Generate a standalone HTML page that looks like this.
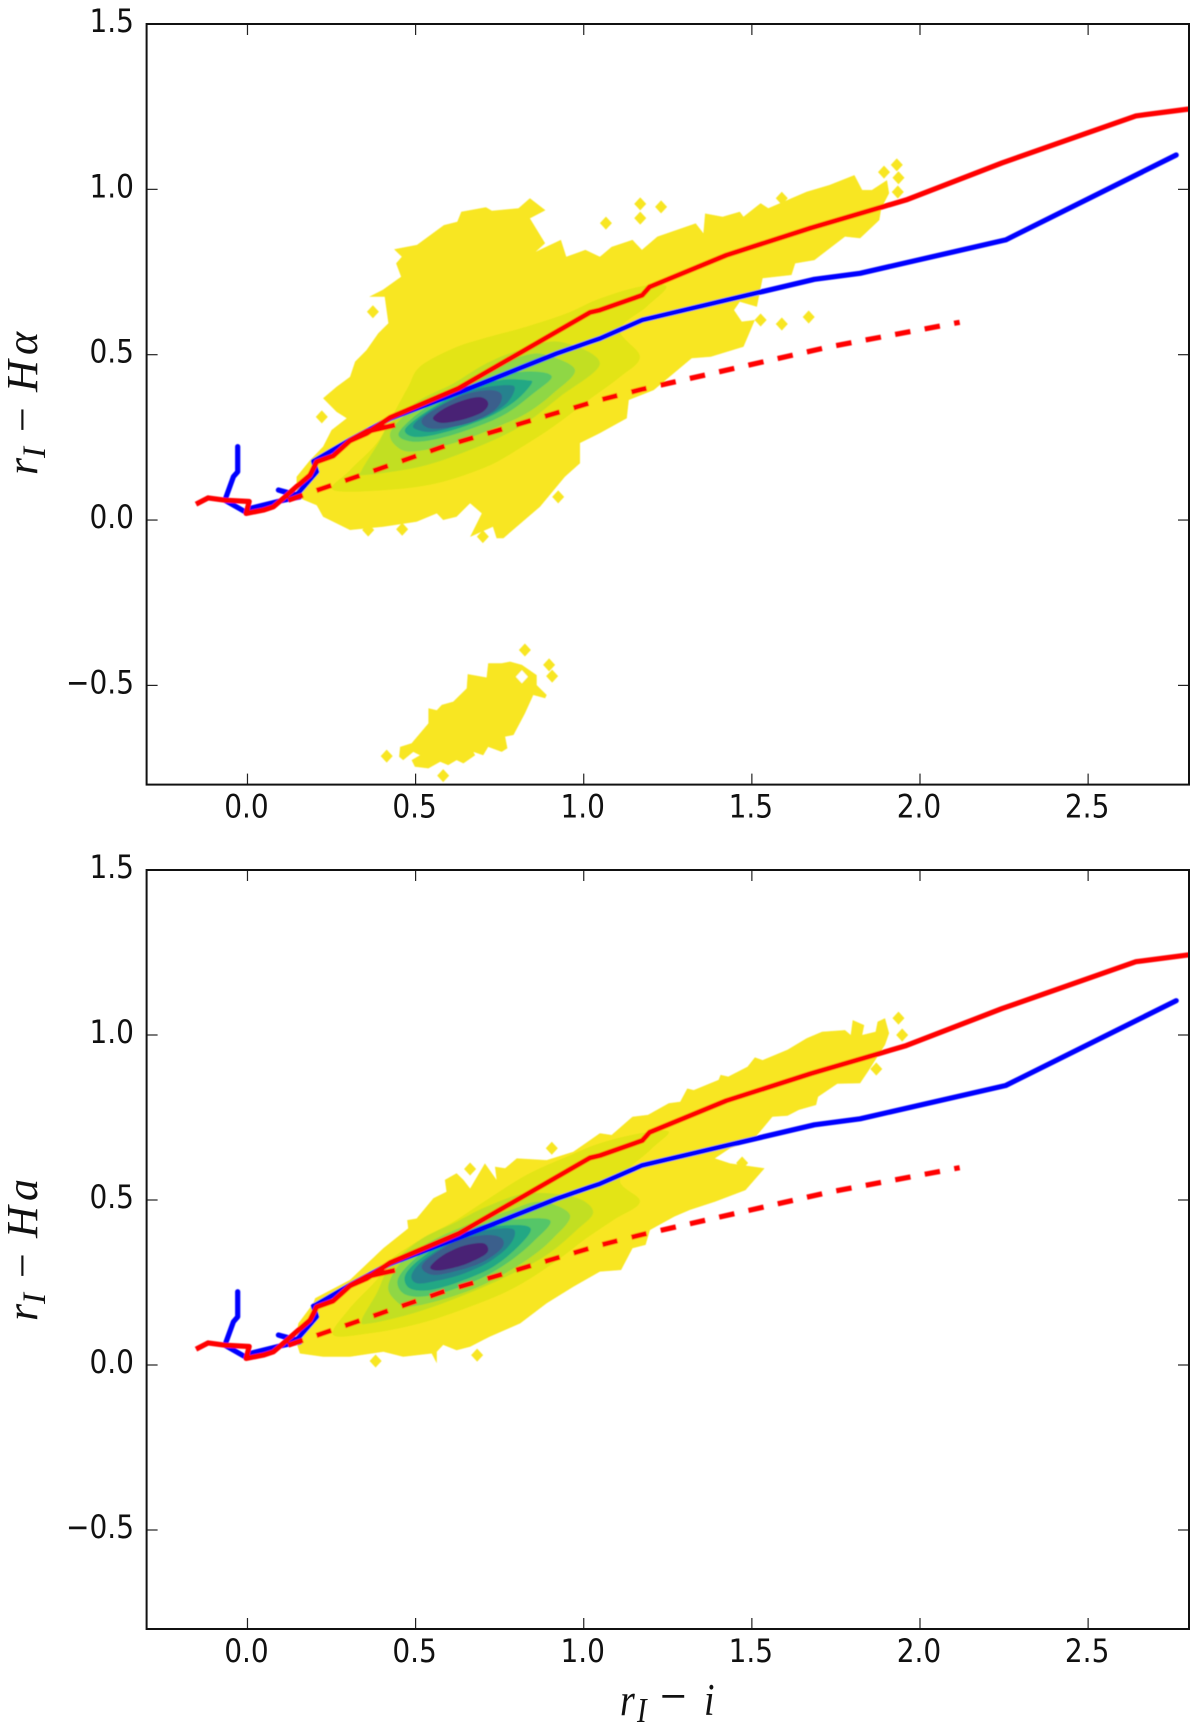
<!DOCTYPE html>
<html lang="en">
<head>
<meta charset="utf-8">
<title>Colour-colour density plots</title>
<style>
html,body{margin:0;padding:0;background:#fff;width:1200px;height:1731px;overflow:hidden}
svg{display:block}
.tick-label{font-family:"DejaVu Sans","Liberation Sans",sans-serif;font-size:28px;fill:#111}
.axis-title{font-family:"Liberation Serif",serif;font-style:italic;fill:#111}
.axis-title .upright{font-style:normal}
</style>
</head>
<body>
<svg id="chart" xmlns="http://www.w3.org/2000/svg" width="1200" height="1731" viewBox="0 0 1200 1731">
  <defs><filter id="soft" x="-2%" y="-2%" width="104%" height="104%"><feGaussianBlur stdDeviation="0.5"/></filter></defs>
  <rect x="0" y="0" width="1200" height="1731" fill="#fff"/>
  <g id="panel-top"></g>
  <g id="panel-bottom"></g>
  <text class="axis-title" font-size="44" transform="translate(37,475) rotate(-90)"><tspan x="0">r</tspan><tspan x="17" y="8" font-size="33">I</tspan><tspan class="upright" x="43" y="0">−</tspan><tspan x="83" y="0">H</tspan><tspan x="120">α</tspan></text>
  <text class="axis-title" font-size="44" transform="translate(37,1321) rotate(-90)"><tspan x="0">r</tspan><tspan x="17" y="8" font-size="33">I</tspan><tspan class="upright" x="43" y="0">−</tspan><tspan x="83" y="0">H</tspan><tspan x="120">a</tspan></text>
  <text class="axis-title" font-size="38" transform="translate(620,1715) scale(1,1.2)"><tspan x="0">r</tspan><tspan x="17" y="6" font-size="29">I</tspan><tspan class="upright" x="40" y="0" font-size="47">−</tspan><tspan x="84" y="0">i</tspan></text>
</svg>
<script>
// ---- axis data ----
const xTicks = [0, 0.5, 1, 1.5, 2, 2.5];
const xTickLabels = ["0.0", "0.5", "1.0", "1.5", "2.0", "2.5"];
const yTicks = [-0.5, 0, 0.5, 1, 1.5];
const yTickLabels = ["−0.5", "0.0", "0.5", "1.0", "1.5"];
const xRange = [-0.3, 2.8];
const yRange = [-0.8, 1.5];

// ---- model tracks (shared by both panels) ----
const redTrack = [[-0.153,0.048],[-0.117,0.067],[-0.067,0.060],[0.005,0.056],[-0.004,0.020],[0.047,0.030],[0.077,0.040],[0.107,0.066],[0.146,0.101],[0.186,0.136],[0.206,0.176],[0.255,0.194],[0.280,0.217],[0.305,0.240],[0.355,0.262],[0.424,0.310],[0.627,0.398],[1.019,0.628],[1.048,0.635],[1.174,0.680],[1.196,0.705],[1.424,0.801],[1.675,0.883],[1.959,0.968],[2.244,1.080],[2.642,1.222],[2.800,1.243]];
const redBranch = [[0.305,0.240],[0.355,0.268],[0.439,0.287]];
const blueTrack = [[-0.029,0.222],[-0.029,0.146],[-0.042,0.131],[-0.067,0.060],[-0.007,0.025],[0.007,0.035],[0.107,0.060],[0.156,0.070],[0.092,0.091],[0.146,0.076],[0.206,0.146],[0.196,0.178],[0.305,0.242],[0.424,0.307],[0.647,0.393],[0.920,0.504],[1.019,0.539],[1.048,0.549],[1.174,0.605],[1.686,0.728],[1.822,0.746],[2.255,0.847],[2.762,1.104]];
const redDashed = [[0.121,0.060],[0.330,0.133],[0.582,0.222],[1.048,0.363],[1.172,0.395],[1.731,0.524],[2.118,0.598]];

// ---- density contour levels, outermost to innermost colour ----
const levelColors = ["#f8e621","#e3e418","#c2df23","#8fd744","#55c667","#22a884","#26828e","#3a5f8c","#482475"];

// ---- top panel contours ----
const topOuter = [[0.146,0.131],[0.186,0.181],[0.225,0.222],[0.250,0.272],[0.295,0.308],[0.265,0.327],[0.225,0.368],[0.265,0.403],[0.305,0.433],[0.320,0.479],[0.354,0.514],[0.389,0.565],[0.419,0.595],[0.408,0.675],[0.362,0.675],[0.402,0.696],[0.457,0.736],[0.442,0.776],[0.459,0.796],[0.436,0.819],[0.504,0.832],[0.584,0.892],[0.624,0.902],[0.636,0.932],[0.709,0.946],[0.727,0.935],[0.806,0.943],[0.840,0.973],[0.886,0.937],[0.840,0.912],[0.885,0.837],[0.857,0.811],[0.932,0.847],[0.948,0.796],[1.005,0.817],[1.048,0.796],[1.083,0.826],[1.145,0.847],[1.173,0.817],[1.219,0.857],[1.333,0.897],[1.356,0.867],[1.361,0.927],[1.413,0.917],[1.464,0.932],[1.475,0.917],[1.526,0.958],[1.549,0.943],[1.663,0.993],[1.731,1.013],[1.805,1.043],[1.828,0.998],[1.857,0.998],[1.902,1.028],[1.908,0.988],[1.885,0.943],[1.879,0.907],[1.822,0.852],[1.777,0.857],[1.686,0.786],[1.629,0.776],[1.618,0.741],[1.532,0.731],[1.515,0.645],[1.464,0.660],[1.447,0.635],[1.470,0.600],[1.509,0.605],[1.475,0.524],[1.378,0.494],[1.321,0.489],[1.208,0.393],[1.134,0.363],[1.128,0.308],[1.048,0.263],[0.989,0.233],[0.989,0.172],[0.944,0.131],[0.870,0.040],[0.761,-0.055],[0.741,-0.055],[0.730,-0.020],[0.662,-0.051],[0.697,0.020],[0.662,0.051],[0.622,0.010],[0.582,0.000],[0.563,0.020],[0.503,-0.005],[0.404,-0.020],[0.305,-0.030],[0.225,0.010],[0.206,0.045],[0.146,0.070]];
const topLowerBlob = [[0.454,-0.686],[0.488,-0.675],[0.538,-0.615],[0.538,-0.569],[0.563,-0.575],[0.578,-0.559],[0.612,-0.549],[0.652,-0.509],[0.655,-0.466],[0.711,-0.476],[0.716,-0.433],[0.756,-0.433],[0.781,-0.428],[0.816,-0.438],[0.860,-0.469],[0.860,-0.499],[0.890,-0.529],[0.885,-0.539],[0.850,-0.529],[0.825,-0.585],[0.791,-0.650],[0.766,-0.655],[0.773,-0.690],[0.756,-0.701],[0.716,-0.686],[0.701,-0.711],[0.672,-0.701],[0.677,-0.711],[0.642,-0.736],[0.622,-0.726],[0.597,-0.741],[0.573,-0.731],[0.538,-0.751],[0.498,-0.746],[0.488,-0.726],[0.513,-0.711],[0.493,-0.701],[0.463,-0.726],[0.451,-0.716]];
const topSpots = [[0.373,0.630],[1.168,0.913],[1.230,0.947],[1.066,0.898],[1.168,0.956],[1.931,1.074],[1.893,1.052],[1.936,1.035],[1.934,0.992],[1.589,0.973],[1.526,0.605],[1.589,0.593],[1.669,0.614],[0.924,0.070],[0.359,-0.030],[0.460,-0.028],[0.700,-0.050],[0.221,0.312],[0.414,-0.714],[0.582,-0.773],[0.825,-0.393],[0.897,-0.438],[0.906,-0.472]];
const topHoles = [[0.816,-0.474],[1.019,0.212]];
const topL2 = [[0.255,0.091],[0.305,0.151],[0.384,0.232],[0.429,0.312],[0.478,0.403],[0.513,0.464],[0.612,0.519],[0.701,0.549],[0.830,0.585],[0.949,0.625],[1.048,0.670],[1.167,0.706],[1.246,0.706],[1.187,0.645],[1.108,0.575],[1.167,0.494],[1.108,0.433],[1.008,0.358],[0.909,0.282],[0.810,0.217],[0.711,0.161],[0.563,0.111],[0.414,0.091]];
const topL3 = [[0.340,0.151],[0.389,0.232],[0.424,0.292],[0.513,0.363],[0.612,0.413],[0.711,0.474],[0.810,0.514],[0.929,0.539],[1.048,0.474],[0.929,0.373],[0.810,0.282],[0.662,0.212],[0.513,0.161],[0.345,0.136]];
const topL4 = [[0.424,0.262],[0.463,0.312],[0.533,0.363],[0.632,0.408],[0.731,0.464],[0.830,0.499],[0.889,0.499],[0.974,0.454],[0.909,0.383],[0.830,0.323],[0.731,0.277],[0.612,0.232],[0.493,0.207],[0.444,0.222]];
const topL5 = [[0.449,0.257],[0.483,0.302],[0.553,0.353],[0.652,0.403],[0.751,0.438],[0.850,0.449],[0.905,0.433],[0.850,0.383],[0.771,0.323],[0.681,0.282],[0.572,0.247],[0.493,0.237]];
const topL6 = [[0.468,0.272],[0.503,0.307],[0.572,0.353],[0.652,0.393],[0.751,0.423],[0.830,0.423],[0.845,0.413],[0.800,0.363],[0.731,0.318],[0.642,0.282],[0.553,0.257],[0.493,0.252]];
const topL7 = [[0.493,0.287],[0.533,0.323],[0.612,0.368],[0.691,0.398],[0.771,0.408],[0.795,0.398],[0.771,0.353],[0.711,0.313],[0.632,0.287],[0.553,0.267],[0.508,0.272]];
const topL8 = [[0.518,0.302],[0.563,0.338],[0.642,0.378],[0.721,0.393],[0.756,0.378],[0.741,0.338],[0.682,0.302],[0.612,0.282],[0.543,0.277]];
const topL9 = [[0.553,0.312],[0.592,0.341],[0.652,0.365],[0.696,0.371],[0.716,0.353],[0.701,0.328],[0.652,0.307],[0.592,0.294],[0.563,0.297]];

// ---- bottom panel contours ----
const bottomOuter = [[0.146,0.086],[0.151,0.126],[0.196,0.187],[0.201,0.202],[0.305,0.258],[0.404,0.354],[0.478,0.414],[0.475,0.439],[0.503,0.444],[0.553,0.505],[0.592,0.525],[0.587,0.561],[0.622,0.581],[0.642,0.561],[0.662,0.535],[0.706,0.611],[0.741,0.561],[0.736,0.601],[0.766,0.596],[0.801,0.626],[0.890,0.621],[0.969,0.646],[1.048,0.702],[1.083,0.697],[1.145,0.752],[1.191,0.758],[1.253,0.793],[1.287,0.798],[1.308,0.838],[1.327,0.833],[1.401,0.864],[1.407,0.879],[1.430,0.874],[1.487,0.904],[1.509,0.932],[1.532,0.924],[1.606,0.955],[1.663,0.990],[1.709,1.010],[1.777,1.015],[1.794,1.000],[1.800,1.045],[1.834,1.030],[1.828,1.000],[1.868,1.010],[1.874,1.040],[1.896,1.051],[1.908,1.005],[1.896,0.970],[1.845,0.889],[1.822,0.854],[1.754,0.852],[1.697,0.813],[1.691,0.788],[1.640,0.773],[1.606,0.755],[1.561,0.752],[1.504,0.682],[1.435,0.657],[1.390,0.626],[1.435,0.611],[1.538,0.596],[1.481,0.530],[1.390,0.495],[1.316,0.470],[1.270,0.450],[1.197,0.409],[1.184,0.364],[1.145,0.354],[1.111,0.288],[1.048,0.283],[0.969,0.237],[0.890,0.187],[0.811,0.126],[0.721,0.086],[0.711,0.081],[0.662,0.055],[0.622,0.045],[0.582,0.061],[0.563,0.040],[0.563,0.005],[0.548,0.035],[0.463,0.025],[0.404,0.040],[0.305,0.025],[0.225,0.025],[0.156,0.035],[0.146,0.066]];
const bottomSpots = [[0.905,0.657],[0.662,0.594],[0.381,0.012],[0.683,0.030],[1.870,0.897],[1.936,1.051],[1.947,1.000],[1.471,0.612]];
const bottomL2 = [[0.255,0.091],[0.300,0.167],[0.384,0.258],[0.424,0.318],[0.513,0.379],[0.612,0.434],[0.711,0.500],[0.830,0.576],[0.949,0.631],[1.048,0.672],[1.167,0.702],[1.253,0.707],[1.197,0.651],[1.108,0.561],[1.167,0.495],[1.088,0.439],[1.008,0.384],[0.909,0.308],[0.790,0.232],[0.662,0.177],[0.513,0.126],[0.364,0.096]];
const bottomL3 = [[0.340,0.136],[0.384,0.217],[0.424,0.298],[0.513,0.379],[0.612,0.429],[0.711,0.480],[0.830,0.520],[0.969,0.510],[1.028,0.465],[0.979,0.409],[0.889,0.333],[0.770,0.268],[0.632,0.207],[0.493,0.157],[0.364,0.126]];
const bottomL4 = [[0.419,0.242],[0.463,0.318],[0.553,0.379],[0.652,0.424],[0.771,0.465],[0.870,0.495],[0.959,0.455],[0.909,0.384],[0.830,0.318],[0.711,0.248],[0.592,0.202],[0.483,0.177],[0.439,0.197]];
const bottomL5 = [[0.446,0.253],[0.483,0.308],[0.562,0.369],[0.662,0.414],[0.771,0.439],[0.899,0.439],[0.850,0.374],[0.771,0.308],[0.672,0.252],[0.553,0.212],[0.473,0.212]];
const bottomL6 = [[0.468,0.268],[0.503,0.313],[0.582,0.369],[0.672,0.409],[0.781,0.424],[0.842,0.414],[0.810,0.364],[0.731,0.298],[0.632,0.253],[0.543,0.227],[0.483,0.232]];
const bottomL7 = [[0.488,0.273],[0.523,0.318],[0.602,0.369],[0.691,0.404],[0.780,0.414],[0.795,0.394],[0.771,0.354],[0.711,0.308],[0.632,0.273],[0.553,0.253],[0.503,0.248]];
const bottomL8 = [[0.518,0.298],[0.558,0.338],[0.632,0.379],[0.711,0.394],[0.756,0.384],[0.756,0.354],[0.701,0.313],[0.632,0.288],[0.553,0.273]];
const bottomL9 = [[0.545,0.300],[0.582,0.333],[0.642,0.361],[0.701,0.369],[0.716,0.348],[0.696,0.328],[0.642,0.303],[0.582,0.288],[0.553,0.288]];

const topLevels = [topL2, topL3, topL4, topL5, topL6, topL7, topL8, topL9];
const bottomLevels = [bottomL2, bottomL3, bottomL4, bottomL5, bottomL6, bottomL7, bottomL8, bottomL9];

const NS = "http://www.w3.org/2000/svg";
function make(tag, parent, attrs) {
  const el = document.createElementNS(NS, tag);
  for (const k in attrs) el.setAttribute(k, attrs[k]);
  parent.appendChild(el);
  return el;
}

const plotLeft = 146.6, plotRight = 1189;
function makeX() {
  const k = (plotRight - plotLeft) / (xRange[1] - xRange[0]);
  return v => plotLeft + (v - xRange[0]) * k;
}
function makeY(plotTop, plotBottom) {
  const k = (plotBottom - plotTop) / (yRange[1] - yRange[0]);
  return v => plotBottom - (v - yRange[0]) * k;
}

function linePath(pts, sx, sy, closed) {
  const d = pts.map((p, i) => (i ? "L" : "M") + sx(p[0]).toFixed(1) + " " + sy(p[1]).toFixed(1)).join("");
  return closed ? d + "Z" : d;
}
function smoothPath(pts, sx, sy) {
  const P = pts.map(p => [sx(p[0]), sy(p[1])]);
  const n = P.length;
  let d = "M" + P[0][0].toFixed(1) + " " + P[0][1].toFixed(1);
  for (let i = 0; i < n; i++) {
    const a = P[(i - 1 + n) % n], b = P[i], c = P[(i + 1) % n], e = P[(i + 2) % n];
    const c1x = b[0] + (c[0] - a[0]) / 6, c1y = b[1] + (c[1] - a[1]) / 6;
    const c2x = c[0] - (e[0] - b[0]) / 6, c2y = c[1] - (e[1] - b[1]) / 6;
    d += "C" + c1x.toFixed(1) + " " + c1y.toFixed(1) + " " + c2x.toFixed(1) + " " + c2y.toFixed(1) + " " + c[0].toFixed(1) + " " + c[1].toFixed(1);
  }
  return d + "Z";
}
function spotPath(p, sx, sy) {
  const x = sx(p[0]), y = sy(p[1]);
  return "M" + (x - 6) + " " + y + "L" + x + " " + (y - 6.5) + "L" + (x + 6) + " " + y + "L" + x + " " + (y + 6.5) + "Z";
}

function drawPanel(id, clipId, plotTop, plotBottom, outer, extraBlobs, spots, holes, levels) {
  const g = document.getElementById(id);
  const sx = makeX();
  const sy = makeY(plotTop, plotBottom);

  const defs = make("defs", g, {});
  const clip = make("clipPath", defs, { id: clipId });
  make("rect", clip, { x: plotLeft, y: plotTop, width: plotRight - plotLeft, height: plotBottom - plotTop });

  const clipped = make("g", g, { "clip-path": "url(#" + clipId + ")" });
  
  

  const marks = make("g", clipped, { filter: "url(#soft)" });
  
  

  const o = make("path", marks, { d: linePath(outer, sx, sy, true), fill: levelColors[0] });
  
  

  extraBlobs.forEach(b => {
    const e = make("path", marks, { d: linePath(b, sx, sy, true), fill: levelColors[0] });
    
    
  });
  spots.forEach(p => {
    const s = make("path", marks, { d: spotPath(p, sx, sy), fill: levelColors[0] });
    
    
  });
  holes.forEach(p => {
    const h = make("path", marks, { d: spotPath(p, sx, sy), fill: "#fff" });
    
    
  });
  levels.forEach((lv, i) => {
    const c = make("path", marks, { d: smoothPath(lv, sx, sy), fill: levelColors[i + 1] });
    
    
  });

  const lineAttrs = { fill: "none", "stroke-width": 5.2, "stroke-linejoin": "round" };
  const blue = make("path", marks, Object.assign({ d: linePath(blueTrack, sx, sy), stroke: "#0000ff", "stroke-linecap": "round" }, lineAttrs));
  
  

  const red = make("path", marks, Object.assign({ d: linePath(redTrack, sx, sy), stroke: "#ff0000" }, lineAttrs));
  
  

  const branch = make("path", marks, Object.assign({ d: linePath(redBranch, sx, sy), stroke: "#ff0000" }, lineAttrs));
  
  

  const dashed = make("path", marks, Object.assign({ d: linePath(redDashed, sx, sy), stroke: "#ff0000", "stroke-dasharray": "15.5 14.5" }, lineAttrs));
  
  

  xTicks.forEach((v, i) => {
    const x = sx(v);
    const tb = make("line", g, { x1: x, x2: x, y1: plotBottom, y2: plotBottom - 11, stroke: "#222", "stroke-width": 1.2 });
    
    
    const tt = make("line", g, { x1: x, x2: x, y1: plotTop, y2: plotTop + 11, stroke: "#222", "stroke-width": 1.2 });
    
    
    const t = make("text", g, { class: "tick-label", "text-anchor": "middle", transform: "translate(" + (x - 1) + "," + (plotBottom + 33) + ") scale(1,1.15)" });
    t.textContent = xTickLabels[i];
    
    
  });
  yTicks.forEach((v, i) => {
    const y = sy(v);
    const tl = make("line", g, { x1: plotLeft, x2: plotLeft + 11, y1: y, y2: y, stroke: "#222", "stroke-width": 1.2 });
    
    
    const tr = make("line", g, { x1: plotRight, x2: plotRight - 11, y1: y, y2: y, stroke: "#222", "stroke-width": 1.2 });
    
    
    const t = make("text", g, { class: "tick-label", "text-anchor": "end", transform: "translate(134," + (y + 8) + ") scale(1,1.15)" });
    t.textContent = yTickLabels[i];
    
    
  });

  const frame = make("rect", g, { x: plotLeft, y: plotTop, width: plotRight - plotLeft, height: plotBottom - plotTop, fill: "none", stroke: "#111", "stroke-width": 2 });
  
  
}

drawPanel("panel-top", "clip-top", 24, 784.6, topOuter, [topLowerBlob], topSpots, topHoles, topLevels);
drawPanel("panel-bottom", "clip-bottom", 870, 1629, bottomOuter, [], bottomSpots, [], bottomLevels);
</script>
</body>
</html>
